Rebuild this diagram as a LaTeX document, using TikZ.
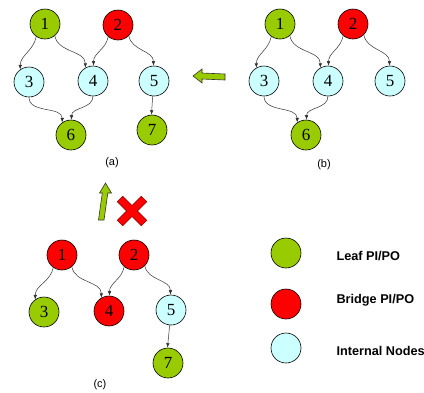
\documentclass[tikz,border=0pt]{standalone}
\usepackage{fontspec}
\setmainfont{Liberation Serif}
\setsansfont{Liberation Sans}
\usetikzlibrary{arrows.meta}
\definecolor{leafgreen}{RGB}{153,204,0}
\definecolor{bridgered}{RGB}{255,0,0}
\definecolor{internalcyan}{RGB}{204,255,255}
\definecolor{edgegray}{RGB}{50,50,50}
\tikzset{
  vtx/.style={circle, draw=black, line width=0.6pt, minimum size=30pt, inner sep=0pt,
              font=\fontsize{17}{17}\selectfont},
  leaf/.style={vtx, fill=leafgreen},
  bridge/.style={vtx, fill=bridgered},
  internal/.style={vtx, fill=internalcyan},
  edge/.style={draw=edgegray, line width=0.5pt, -{Latex[length=4.5pt,width=3.5pt]}},
  caption/.style={font=\sffamily\fontsize{11}{11}\selectfont},
  legendtext/.style={anchor=west, font=\sffamily\bfseries\fontsize{12.7}{12.7}\selectfont},
  blockarrow/.style={fill=leafgreen, draw=black!80, line width=0.6pt, line join=miter},
}
\begin{document}
\begin{tikzpicture}[x=1pt,y=-1pt]
\useasboundingbox (0,0) rectangle (424,392);

% (a) full graph
\node[leaf]     (a1) at (45,24)  {1};
\node[bridge]   (a2) at (118,25) {2};
\node[internal] (a3) at (29,82)  {3};
\node[internal] (a4) at (93,81)  {4};
\node[internal] (a5) at (154,81) {5};
\node[leaf]     (a6) at (71,135) {6};
\node[leaf]     (a7) at (152,130){7};
\draw[edge] (a1.-125) to[out=-100,in=90] (a3.125);
\draw[edge] (a1.-50)  to[out=-80,in=90]  (a4.120);
\draw[edge] (a2.-130) to[out=-100,in=90] (a4.88);
\draw[edge] (a2.-45)  to[out=-80,in=90]  (a5.92);
\draw[edge] (a5.-95)  -- (a7.92);
\draw[edge] (a3.-90)  to[out=-90,in=90]  (a6.125);
\draw[edge] (a4.-90)  to[out=-90,in=90]  (a6.88);
\node[caption] (capa) at (112,163) {(a)};

% (b) graph without node 7
\node[leaf]     (b1) at (280,24)  {1};
\node[bridge]   (b2) at (353,24)  {2};
\node[internal] (b3) at (264,81)  {3};
\node[internal] (b4) at (328,81)  {4};
\node[internal] (b5) at (390,81)  {5};
\node[leaf]     (b6) at (306,135) {6};
\draw[edge] (b1.-125) to[out=-100,in=90] (b3.120);
\draw[edge] (b1.-50)  to[out=-80,in=90]  (b4.120);
\draw[edge] (b2.-130) to[out=-100,in=90] (b4.88);
\draw[edge] (b2.-45)  to[out=-80,in=90]  (b5.92);
\draw[edge] (b3.-90)  to[out=-90,in=90]  (b6.125);
\draw[edge] (b4.-90)  to[out=-90,in=90]  (b6.88);
\node[caption] (capb) at (324,165) {(b)};

% left block arrow from (b) to (a)
\draw[blockarrow] (193,76) -- (202,69) -- (202,73) -- (225,74) -- (225,80)
  -- (202,79) -- (202,83) -- cycle;

% (c) graph with bridge nodes
\node[bridge]   (c1) at (62,255)  {1};
\node[bridge]   (c2) at (134,255) {2};
\node[leaf]     (c3) at (44,312)  {3};
\node[bridge]   (c4) at (109,311) {4};
\node[internal] (c5) at (171,310) {5};
\node[leaf]     (c7) at (168,363) {7};
\draw[edge] (c1.-125) to[out=-100,in=90] (c3.125);
\draw[edge] (c1.-50)  to[out=-80,in=90]  (c4.120);
\draw[edge] (c2.-130) to[out=-100,in=90] (c4.88);
\draw[edge] (c2.-45)  to[out=-80,in=90]  (c5.92);
\draw[edge] (c5.-95)  -- (c7.92);
\node[caption] (capc) at (100,385) {(c)};

% up block arrow and red cross
\draw[blockarrow] (105.5,183) -- (111.5,193) -- (107.8,193) -- (104,220)
  -- (98.5,220) -- (102.3,193) -- (99.5,193) -- cycle;
\begin{scope}[shift={(132,211)}, rotate=45]
  \draw[fill=bridgered, draw=red!60!black, line width=0.6pt]
    (3.8,3.8) -- (17,3.8) -- (17,-3.8) -- (3.8,-3.8) -- (3.8,-17) -- (-3.8,-17)
    -- (-3.8,-3.8) -- (-17,-3.8) -- (-17,3.8) -- (-3.8,3.8) -- (-3.8,17)
    -- (3.8,17) -- cycle;
\end{scope}

% legend
\node[leaf]     (lg1) at (286,253) {};
\node[bridge]   (lg2) at (286,304) {};
\node[internal] (lg3) at (286,348) {};
\node[legendtext] (lt1) at (333,256) {Leaf PI/PO};
\node[legendtext] (lt2) at (333,300) {Bridge PI/PO};
\node[legendtext] (lt3) at (333,351) {Internal Nodes};
\end{tikzpicture}
\end{document}
